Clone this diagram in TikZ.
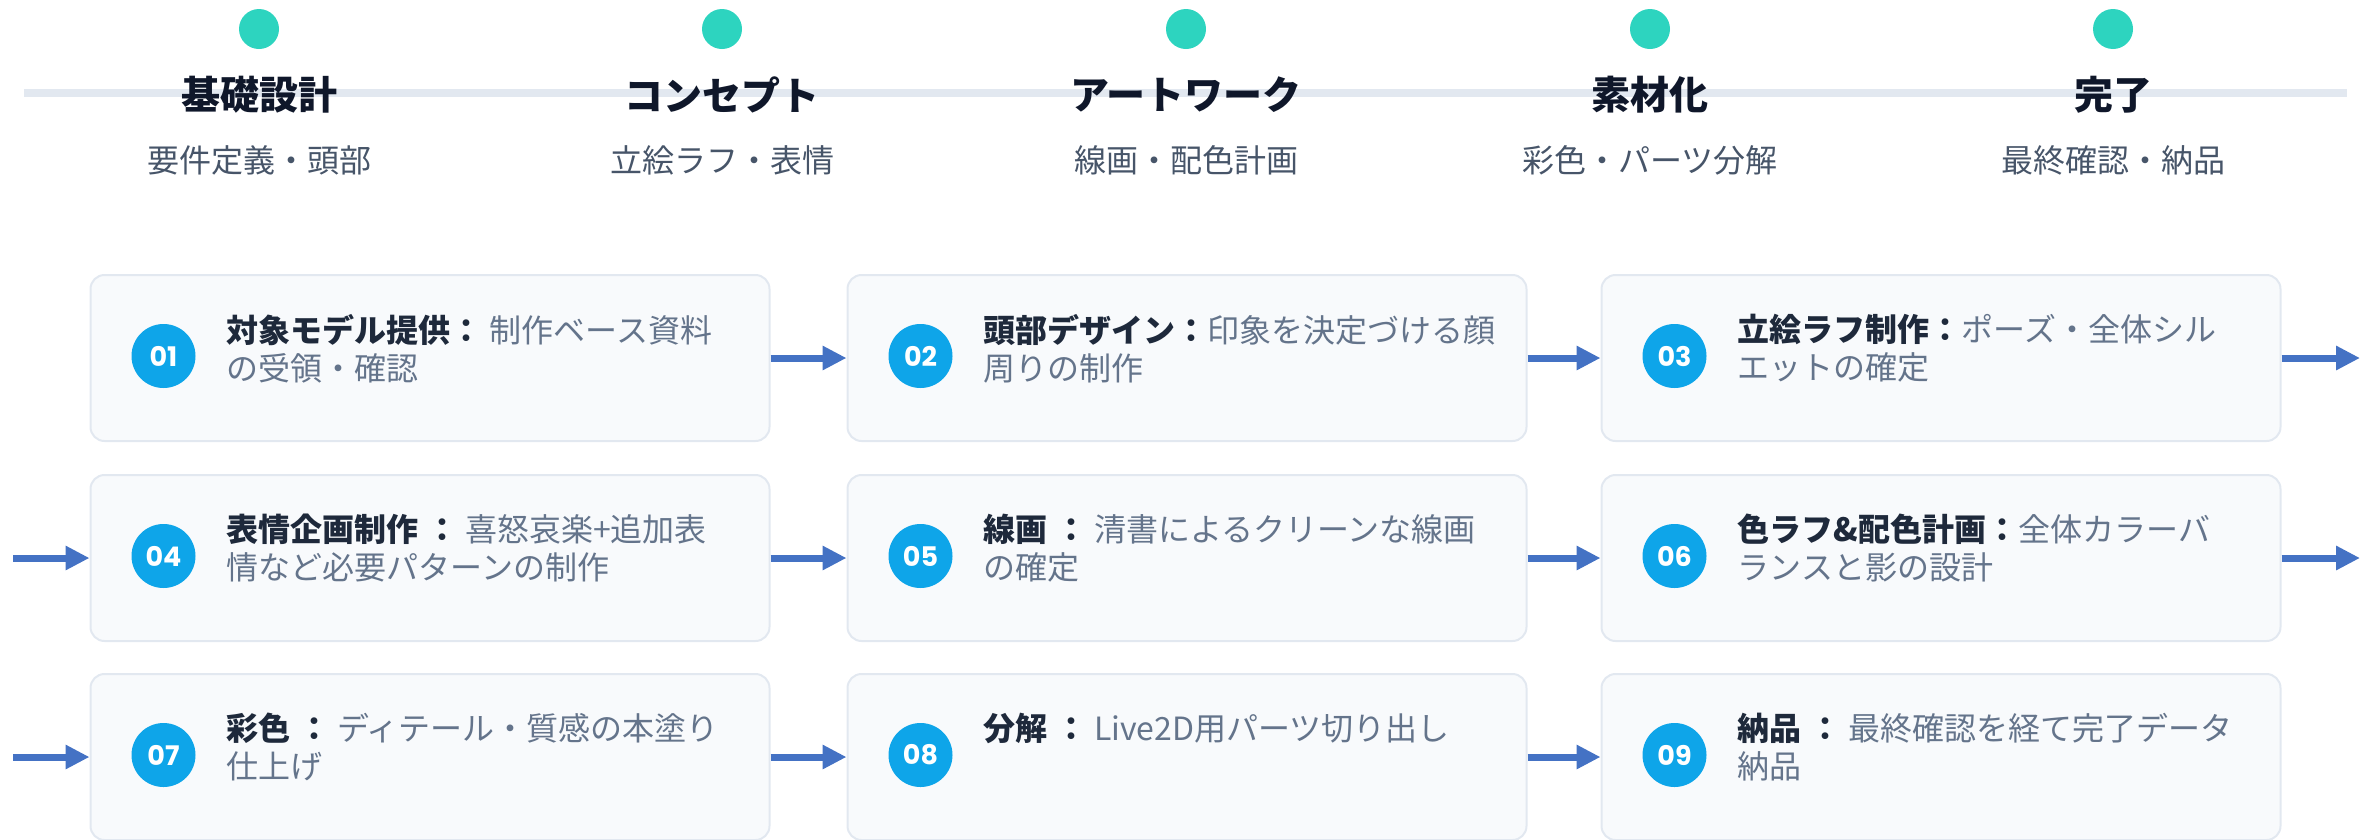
\documentclass[tikz,border=0pt]{standalone}
\usepackage{fontspec}
\setmainfont{Noto Sans CJK JP}
\newfontfamily\numfont{Poppins}
\usetikzlibrary{arrows.meta}
\definecolor{dotc}{HTML}{2DD4BF}
\definecolor{linec}{HTML}{E2E8F0}
\definecolor{titlec}{HTML}{0F172A}
\definecolor{subc}{HTML}{475569}
\definecolor{cardfill}{HTML}{F8FAFC}
\definecolor{cardline}{HTML}{E2E8F0}
\definecolor{numc}{HTML}{0EA5E9}
\definecolor{headc}{HTML}{1E293B}
\definecolor{descc}{HTML}{64748B}
\definecolor{arrc}{HTML}{4472C4}
\tikzset{
  phasedot/.style={circle, fill=dotc, minimum size=40pt, inner sep=0pt},
  phasetitle/.style={font=\fontsize{39}{44}\selectfont\bfseries, text=titlec, inner sep=0pt},
  phasesub/.style={font=\fontsize{32}{36}\selectfont, text=subc, inner sep=0pt},
  card/.style={draw=cardline, line width=2pt, fill=cardfill, rounded corners=14pt, minimum width=679pt, minimum height=166pt, inner sep=0pt},
  numbadge/.style={circle, fill=numc, minimum size=64pt, inner sep=0pt, text=white, font=\numfont\fontsize{27}{30}\selectfont\bfseries},
  desc/.style={anchor=north west, align=left, inner sep=0pt, text=descc, font=\fontsize{32}{38}\selectfont},
  arr/.style={draw=arrc, line width=7pt, -{Triangle[length=24pt,width=23pt]}},
}
\newcommand{\hd}[1]{\textcolor{headc}{\bfseries #1}}
\begin{document}
\begin{tikzpicture}[x=1pt,y=-1pt]
\useasboundingbox (0,0) rectangle (2374,839);
% timeline
\coordinate (tl0) at (24,93);
\coordinate (tl1) at (2347,93);
\draw[linec, line width=8pt] (tl0) -- (tl1);
% phases
\foreach \x/\t/\s [count=\i] in {259/基礎設計/要件定義・頭部, 722/コンセプト/立絵ラフ・表情, 1186/アートワーク/線画・配色計画, 1650/素材化/彩色・パーツ分解, 2113/完了/最終確認・納品}{
  \node[phasedot] (pd\i) at (\x,29) {};
  \node[phasetitle] (pt\i) at (\x,95) {\t};
  \node[phasesub] (ps\i) at (\x,160) {\s};
}
% cards
\node[card] (c1) at (430,358) {};
\node[card] (c2) at (1187,358) {};
\node[card] (c3) at (1941,358) {};
\node[card] (c4) at (430,558) {};
\node[card] (c5) at (1187,558) {};
\node[card] (c6) at (1941,558) {};
\node[card] (c7) at (430,757) {};
\node[card] (c8) at (1187,757) {};
\node[card] (c9) at (1941,757) {};
% badges
\foreach \c/\n in {c1/01,c2/02,c3/03,c4/04,c5/05,c6/06,c7/07,c8/08,c9/09}{
  \node[numbadge] (b\n) at ([xshift=74pt,yshift=2pt]\c.west) {\n};
}
% texts
\node[desc] (t1) at ([xshift=137pt,yshift=-40pt]c1.north west) {\hd{対象モデル提供：} 制作ベース資料\\の受領・確認};
\node[desc] (t2) at ([xshift=137pt,yshift=-40pt]c2.north west) {\hd{頭部デザイン：}印象を決定づける顔\\周りの制作};
\node[desc] (t3) at ([xshift=137pt,yshift=-40pt]c3.north west) {\hd{立絵ラフ制作：}ポーズ・全体シル\\エットの確定};
\node[desc] (t4) at ([xshift=137pt,yshift=-40pt]c4.north west) {\hd{表情企画制作 ：} 喜怒哀楽+追加表\\情など必要パターンの制作};
\node[desc] (t5) at ([xshift=137pt,yshift=-40pt]c5.north west) {\hd{線画 ：} 清書によるクリーンな線画\\の確定};
\node[desc] (t6) at ([xshift=137pt,yshift=-40pt]c6.north west) {\hd{色ラフ\&配色計画：}全体カラーバ\\ランスと影の設計};
\node[desc] (t7) at ([xshift=137pt,yshift=-40pt]c7.north west) {\hd{彩色 ：} ディテール・質感の本塗り\\仕上げ};
\node[desc] (t8) at ([xshift=137pt,yshift=-40pt]c8.north west) {\hd{分解 ：} Live2D用パーツ切り出し};
\node[desc] (t9) at ([xshift=137pt,yshift=-40pt]c9.north west) {\hd{納品 ：} 最終確認を経て完了データ\\納品};
% connectors
\coordinate (out3) at (2360,358);
\coordinate (out6) at (2360,558);
\coordinate (in4) at (13,558);
\coordinate (in7) at (13,757);
\draw[arr] (c1.east) -- (c2.west);
\draw[arr] (c2.east) -- (c3.west);
\draw[arr] (c3.east) -- (out3);
\draw[arr] (in4) -- (c4.west);
\draw[arr] (c4.east) -- (c5.west);
\draw[arr] (c5.east) -- (c6.west);
\draw[arr] (c6.east) -- (out6);
\draw[arr] (in7) -- (c7.west);
\draw[arr] (c7.east) -- (c8.west);
\draw[arr] (c8.east) -- (c9.west);
\end{tikzpicture}
\end{document}
